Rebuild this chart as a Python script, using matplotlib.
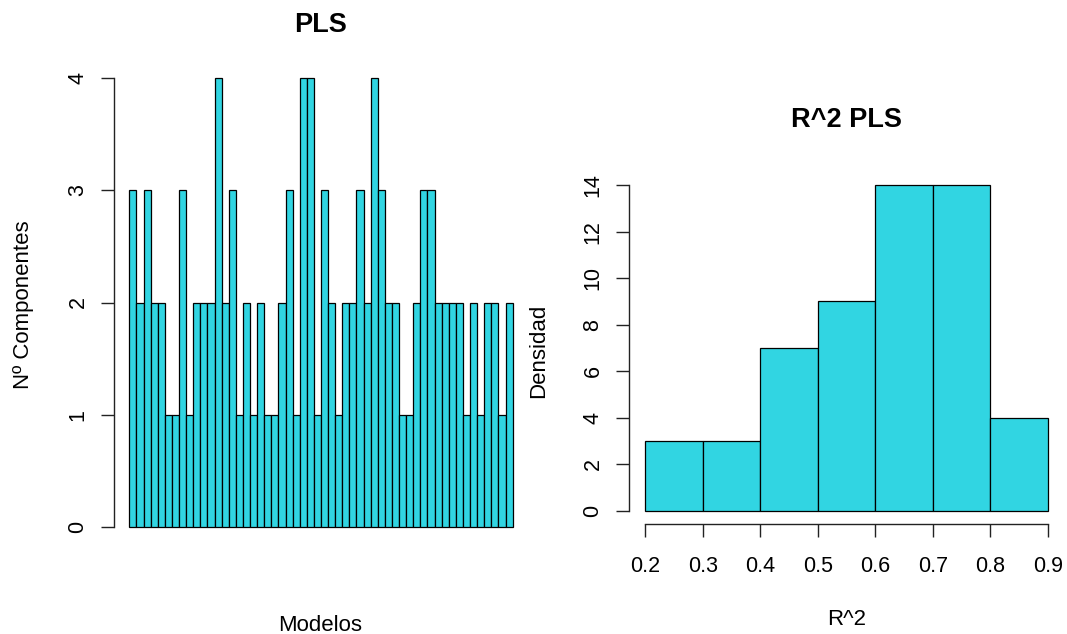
import matplotlib
matplotlib.use("Agg")
import matplotlib.pyplot as plt
import numpy as np

# Number of PLS components selected for each model
componentes = [3, 2, 3, 2, 2, 1, 1, 3, 1, 2, 2, 2, 4, 2, 3, 1, 2, 1,
               2, 1, 1, 2, 3, 1, 4, 4, 1, 3, 2, 1, 2, 2, 3, 2, 4, 3,
               2, 2, 1, 1, 2, 3, 3, 2, 2, 2, 2, 1, 2, 1, 2, 2, 1, 2]

# Histogram of R^2 values
r2_breaks = [0.2, 0.3, 0.4, 0.5, 0.6, 0.7, 0.8, 0.9]
r2_counts = [3, 3, 7, 9, 14, 14, 4]

left_yticks = [0, 1, 2, 3, 4]
right_yticks = [0, 2, 4, 6, 8, 10, 12, 14]
right_xticks = [0.2, 0.3, 0.4, 0.5, 0.6, 0.7, 0.8, 0.9]

FILL = "#31d5e2"
W, H = 1067, 634
TICK_FS = 15.5
LABEL_FS = 16
TITLE_FS = 19.5
plt.rcParams["font.family"] = ["Liberation Sans", "DejaVu Sans"]

fig = plt.figure(figsize=(W / 100, H / 100), dpi=100)


def px_axes(x0, y0, x1, y1):
    return fig.add_axes([x0 / W, 1 - y1 / H, (x1 - x0) / W, (y1 - y0) / H])


def r_style(ax):
    for s in ("top", "right"):
        ax.spines[s].set_visible(False)
    for s in ("left", "bottom"):
        ax.spines[s].set_linewidth(1.0)
        ax.spines[s].set_color("#222222")
    ax.tick_params(direction="out", length=9.4, width=1.0, color="#222222",
                   labelsize=TICK_FS)


# ---- Left: bar chart of components per model ----
axL = px_axes(114, 60, 528, 545)
n = len(componentes)
axL.bar(np.arange(n), componentes, width=1.0, align="edge",
        color=FILL, edgecolor="black", linewidth=0.9)
axL.set_xlim(-0.04 * n, n * 1.04)
axL.set_ylim(-0.04 * 4, 4 * 1.04)
r_style(axL)
axL.spines["bottom"].set_visible(False)
axL.set_xticks([])
axL.set_yticks(left_yticks)
axL.spines["left"].set_bounds(0, 4)
axL.tick_params(axis="y", labelrotation=90, pad=9)
for t in axL.get_yticklabels():
    t.set_va("center")

# ---- Right: histogram of R^2 ----
axR = px_axes(629, 172, 1064, 524)
axR.hist(r2_breaks[:-1], bins=r2_breaks, weights=r2_counts,
         color=FILL, edgecolor="black", linewidth=0.9)
span = r2_breaks[-1] - r2_breaks[0]
axR.set_xlim(r2_breaks[0] - 0.04 * span, r2_breaks[-1] + 0.04 * span)
axR.set_ylim(-0.04 * 14, 14 * 1.04)
r_style(axR)
axR.set_xticks(right_xticks)
axR.set_xticklabels([f"{v:.1f}" for v in right_xticks])
axR.set_yticks(right_yticks)
axR.spines["left"].set_bounds(0, 14)
axR.spines["bottom"].set_bounds(0.2, 0.9)
axR.tick_params(axis="x", pad=14)
axR.tick_params(axis="y", labelrotation=90, pad=9)
for t in axR.get_yticklabels():
    t.set_va("center")

# ---- Titles and axis labels ----
def ftext(x, y, s, **kw):
    fig.text(x / W, 1 - y / H, s, **kw)


ftext(321, 32, "PLS", ha="center", va="baseline", fontsize=TITLE_FS, fontweight="bold")
ftext(846.5, 127, "R^2 PLS", ha="center", va="baseline", fontsize=TITLE_FS, fontweight="bold")
ftext(320, 631, "Modelos", ha="center", va="baseline", fontsize=LABEL_FS)
ftext(847, 625, "R^2", ha="center", va="baseline", fontsize=LABEL_FS)
ftext(24, 305, "Nº Componentes", ha="center", va="center", rotation=90, fontsize=LABEL_FS)
ftext(539, 351, "Densidad", ha="center", va="center", rotation=90, fontsize=LABEL_FS)

fig.savefig("out.png", dpi=100)
